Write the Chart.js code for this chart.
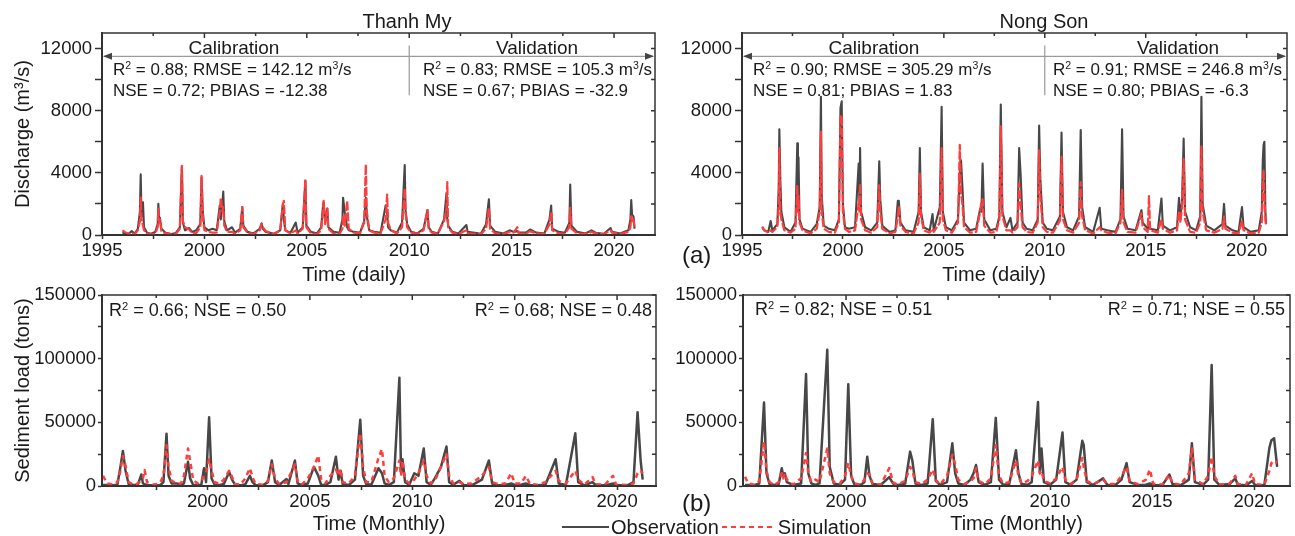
<!DOCTYPE html>
<html>
<head>
<meta charset="utf-8">
<title>Thanh My / Nong Son - discharge and sediment load</title>
<script src="https://cdn.jsdelivr.net/npm/chart.js@4.4.1/dist/chart.umd.min.js"></script>
<style>
    body { margin: 0; width: 1295px; height: 536px; position: relative; overflow: hidden; background: #fff;
           font-family: 'Liberation Sans', Arial, sans-serif; color: #1a1a1a; }
    canvas { position: absolute; }
    .lbl { position: absolute; white-space: nowrap; }
    .title { font-size: 20px; line-height: 22px; transform: translateX(-50%); }
    .axis { font-size: 20px; line-height: 24px; transform: translateX(-50%); }
    .period { font-size: 19px; line-height: 22px; transform: translateX(-50%); }
    .stat { font-size: 17px; line-height: 20px; }
    .stat2 { font-size: 18px; line-height: 22px; }
    .tag { font-size: 24px; line-height: 28px; }
    sup { font-size: 0.62em; line-height: 0; position: relative; top: -0.55em; vertical-align: baseline; }
    #legend { left: 562px; top: 516px; font-size: 20px; line-height: 22px; display: flex; align-items: center; }
    .key { display: inline-block; height: 2.5px; }
    .key.solid { width: 47px; background: #474747; margin-right: 2px; }
    .key.dashed { width: 50px; margin: 0 6px 0 3px;
                  background: repeating-linear-gradient(to right, #ff3d3d 0 5px, transparent 5px 9px); }
</style>
</head>
<body>

<canvas id="tmQ" width="660" height="290" style="left:0; top:0;"></canvas>
<canvas id="nsQ" width="655" height="290" style="left:640px; top:0;"></canvas>
<canvas id="tmSed" width="660" height="256" style="left:0; top:280px;"></canvas>
<canvas id="nsSed" width="655" height="256" style="left:640px; top:280px;"></canvas>

<div class="lbl title" style="left:407px; top:10px;">Thanh My</div>
<div class="lbl title" style="left:1044px; top:10px;">Nong Son</div>
<div class="lbl axis" style="left:354px; top:262px;">Time (daily)</div>
<div class="lbl axis" style="left:994px; top:262px;">Time (daily)</div>

<div class="lbl period" style="left:234px; top:37px;">Calibration</div>
<div class="lbl period" style="left:537px; top:37px;">Validation</div>
<div class="lbl stat" style="left:113px; top:60px;">R<sup>2</sup> = 0.88; RMSE = 142.12 m<sup>3</sup>/s</div>
<div class="lbl stat" style="left:113px; top:81px;">NSE = 0.72; PBIAS = -12.38</div>
<div class="lbl stat" style="left:423px; top:60px;">R<sup>2</sup> = 0.83; RMSE = 105.3 m<sup>3</sup>/s</div>
<div class="lbl stat" style="left:423px; top:81px;">NSE = 0.67; PBIAS = -32.9</div>

<div class="lbl period" style="left:874px; top:37px;">Calibration</div>
<div class="lbl period" style="left:1178px; top:37px;">Validation</div>
<div class="lbl stat" style="left:753px; top:60px;">R<sup>2</sup> = 0.90; RMSE = 305.29 m<sup>3</sup>/s</div>
<div class="lbl stat" style="left:753px; top:81px;">NSE = 0.81; PBIAS = 1.83</div>
<div class="lbl stat" style="left:1053px; top:60px;">R<sup>2</sup> = 0.91; RMSE = 246.8 m<sup>3</sup>/s</div>
<div class="lbl stat" style="left:1053px; top:81px;">NSE = 0.80; PBIAS = -6.3</div>

<div class="lbl stat2" style="left:109px; top:299px;">R<sup>2</sup> = 0.66; NSE = 0.50</div>
<div class="lbl stat2" style="right:643px; top:299px;">R<sup>2</sup> = 0.68; NSE = 0.48</div>
<div class="lbl stat2" style="left:755px; top:298px;">R<sup>2</sup> = 0.82; NSE = 0.51</div>
<div class="lbl stat2" style="right:10px; top:298px;">R<sup>2</sup> = 0.71; NSE = 0.55</div>

<div class="lbl tag" style="left:682px; top:241px;">(a)</div>
<div class="lbl tag" style="left:682px; top:489px;">(b)</div>

<div id="legend" class="lbl"><span class="key solid"></span>Observation<span class="key dashed"></span>Simulation</div>

<script>
// ---- data (decimal years) ----

// Thanh My daily discharge (m3/s)
const tmQTime = [
    1996.00,1996.10,1996.30,1996.45,1996.60,1996.75,1996.85,1996.89,1996.93,1997.00,1997.05,1997.20,1997.40,1997.60,1997.72,1997.75,1997.80,1997.83,1997.90,
    1998.10,1998.40,1998.60,1998.80,1998.90,1998.95,1999.05,1999.25,1999.40,1999.60,1999.80,1999.86,1999.92,
    2000.00,2000.20,2000.40,2000.60,2000.75,2000.80,2000.88,2000.92,2000.97,2001.10,2001.35,2001.50,2001.75,2001.85,2001.90,
    2002.10,2002.40,2002.70,2002.79,2002.85,2003.00,2003.40,2003.70,2003.83,2003.88,2003.95,2004.20,2004.46,2004.55,2004.80,2004.93,2004.98,
    2005.20,2005.50,2005.70,2005.78,2005.82,2005.90,2006.00,2006.05,2006.30,2006.60,2006.74,2006.77,2006.85,2006.97,2007.05,2007.30,2007.60,2007.80,2007.88,2007.93,
    2008.05,2008.30,2008.60,2008.85,2008.92,2008.97,2009.10,2009.40,2009.65,2009.78,2009.82,2009.90,
    2010.10,2010.40,2010.70,2010.89,2010.95,2011.10,2011.40,2011.70,2011.82,2011.86,2011.90,2012.10,2012.40,2012.79,2012.85,2013.20,2013.50,2013.75,2013.89,2013.95,2014.20,2014.60,2014.90,
    2015.10,2015.28,2015.35,2015.70,2015.90,2016.20,2016.60,2016.85,2016.93,2016.98,2017.30,2017.60,2017.82,2017.86,2017.92,2018.20,2018.60,2018.90,2019.10,2019.50,2019.83,2019.90,
    2020.30,2020.70,2020.80,2020.84,2020.88,2020.95,2021.00
];
const tmQObs = [
    120,150,80,250,90,400,1500,3900,1200,2100,500,150,80,200,700,2000,900,1100,400,
    150,70,120,500,4400,800,300,450,200,300,700,3700,1500,
    500,300,400,300,1900,1000,2000,2800,900,300,500,150,400,1800,600,
    200,100,400,750,400,200,80,300,2000,1000,300,150,800,150,500,3500,600,
    200,100,500,1700,2100,800,1700,500,200,150,1000,2400,1500,500,300,200,150,900,2400,1200,
    300,200,150,1900,1400,500,300,150,800,4500,1600,700,
    200,100,400,1600,500,200,100,1000,2700,1000,600,200,100,640,200,150,80,700,2300,600,200,100,300,
    200,250,150,150,350,150,100,1000,1900,400,200,150,800,3250,600,200,100,300,150,80,450,200,
    100,300,1000,2250,1300,1200,400
];
const tmQSim = [
    300,200,60,120,50,300,900,2400,1000,600,300,100,50,80,500,1700,800,1000,250,
    100,40,60,400,4450,900,500,350,150,120,500,3800,1200,
    300,200,150,150,1500,2400,1500,1800,600,200,200,80,300,1800,500,
    150,60,300,700,500,250,50,300,1950,2200,300,100,300,100,400,3550,500,
    100,60,300,1500,2200,700,1700,400,100,80,400,1200,600,2200,400,150,120,800,4550,1500,
    300,150,100,1000,2600,800,300,100,500,3000,1500,500,
    150,80,300,1600,400,150,80,900,1700,3400,500,150,60,300,100,80,50,400,1740,400,100,60,200,
    150,500,100,80,250,100,60,700,1500,300,100,80,500,1750,400,100,60,200,100,50,300,150,
    60,200,500,1200,800,1000,500
];

// Nong Son daily discharge (m3/s)
const nsQTime = [
    1996.00,1996.10,1996.30,1996.42,1996.50,1996.75,1996.82,1996.85,1996.90,1996.95,1997.10,1997.40,1997.65,1997.74,1997.77,1997.80,1997.85,
    1998.00,1998.40,1998.70,1998.85,1998.91,1998.95,1999.05,1999.30,1999.60,1999.80,1999.88,1999.94,
    2000.00,2000.10,2000.30,2000.60,2000.78,2000.82,2000.85,2000.90,2001.10,2001.40,2001.70,2001.80,2001.85,2001.95,
    2002.30,2002.60,2002.72,2002.77,2002.85,2003.10,2003.50,2003.75,2003.81,2003.87,2004.00,2004.30,2004.44,2004.50,2004.80,2004.89,2004.95,
    2005.10,2005.40,2005.70,2005.79,2005.85,2005.92,2006.00,2006.30,2006.60,2006.80,2006.86,2006.92,2007.00,2007.30,2007.60,2007.75,2007.82,2007.90,
    2008.10,2008.30,2008.40,2008.65,2008.73,2008.80,2008.90,2009.10,2009.40,2009.65,2009.72,2009.78,2009.90,
    2010.10,2010.40,2010.75,2010.83,2010.90,2011.10,2011.40,2011.70,2011.78,2011.85,2012.00,2012.40,2012.72,2012.80,2013.10,2013.50,2013.75,2013.83,2013.90,2014.10,2014.50,2014.79,2014.85,
    2015.10,2015.16,2015.22,2015.60,2015.78,2015.85,2016.20,2016.55,2016.65,2016.72,2016.80,2016.88,2016.95,2017.20,2017.50,2017.70,2017.76,2017.82,2018.00,2018.40,2018.80,2018.88,2018.95,2019.30,2019.60,2019.77,2019.85,
    2020.20,2020.60,2020.75,2020.80,2020.84,2020.88,2020.93,2020.96
];
const nsQObs = [
    500,300,200,900,300,700,3000,6800,3500,1500,500,200,800,5900,2000,5000,1000,
    400,200,700,1800,8900,2500,600,400,300,1000,8200,8600,
    2000,500,400,500,4600,2000,5600,1500,500,300,800,4750,2300,600,
    200,300,2200,2200,800,300,200,1500,5600,1500,500,300,1350,300,1800,8250,1500,
    500,300,1000,4000,4800,3100,800,300,400,1700,1500,4600,1000,300,400,1200,8400,1500,
    500,1100,300,800,5600,4000,800,400,300,1000,7050,3600,800,
    400,300,1200,6600,1500,500,300,1200,6750,1800,500,200,1750,400,300,200,1000,6800,1200,400,300,1600,800,
    400,600,400,300,2350,600,300,500,2400,1200,2100,6200,1500,500,300,1200,8900,2000,600,300,700,2000,600,300,200,1800,500,
    200,300,1500,4800,5800,6000,1500,700
];
const nsQSim = [
    550,300,150,300,200,500,2000,5600,1500,1000,300,150,400,3200,1500,2500,800,
    300,100,400,1500,6650,1500,400,200,150,800,7600,7700,
    1500,400,200,300,2000,1500,3300,1000,300,150,500,3200,1500,400,
    100,200,1200,1850,600,200,100,800,3950,1200,300,150,400,200,800,5600,1000,
    300,150,800,5800,2700,2000,500,150,200,1500,2200,2300,600,150,200,1000,7000,1200,
    300,300,150,500,3300,2000,500,200,150,800,5450,2500,500,
    200,150,900,5050,1000,300,150,800,3400,1200,300,100,500,300,150,100,800,2900,800,200,150,1400,500,
    200,2500,300,150,1000,400,150,300,1500,800,1800,4900,1000,200,150,800,5700,1500,300,150,400,1200,400,150,100,900,300,
    100,150,800,3000,4200,2500,1000,600
];

// Thanh My monthly sediment load (tons)
const tmSedTime = [
    1994.90,1995.10,1995.40,1995.60,1995.75,1995.87,1996.00,1996.15,1996.40,1996.60,1996.77,1996.85,1996.93,1997.05,1997.40,1997.70,1997.85,
    1998.00,1998.10,1998.25,1998.50,1998.70,1998.85,1999.05,1999.15,1999.30,1999.50,1999.70,1999.83,1999.93,
    2000.08,2000.20,2000.35,2000.60,2000.80,2001.06,2001.20,2001.35,2001.60,2001.85,2002.07,2002.20,2002.35,2002.70,2002.95,
    2003.14,2003.30,2003.50,2003.86,2003.95,2004.27,2004.40,2004.60,2004.90,2005.20,2005.41,2005.55,2005.75,2006.00,2006.27,2006.40,2006.50,2006.60,2006.90,
    2007.20,2007.46,2007.60,2007.75,2008.00,2008.35,2008.52,2008.65,2008.85,2009.10,2009.37,2009.45,2009.52,2009.65,2009.85,
    2010.10,2010.30,2010.56,2010.70,2010.90,2011.10,2011.40,2011.67,2011.80,2012.00,2012.30,2012.50,2012.90,2013.40,2013.74,2013.90,2014.20,2014.55,2014.83,
    2015.00,2015.30,2015.55,2015.75,2016.10,2016.50,2017.00,2017.15,2017.50,2017.96,2018.10,2018.40,2018.80,2018.95,2019.40,2019.80,2019.95,2020.50,2020.80,2021.00,2021.15,2021.25
];
const tmSedObs = [
    800,800,600,1000,15000,27500,12000,1500,800,1000,9000,2000,1500,800,600,800,3000,
    41000,8000,2000,2000,800,2000,19000,6000,1000,800,1000,14000,3000,
    54000,6000,1000,800,1500,11000,5000,800,500,1500,8000,3000,600,500,3000,
    20000,3000,800,5500,1500,20000,2000,600,2000,15000,8000,1000,800,3000,23000,5000,12000,1500,800,
    5000,52000,8000,1500,1000,14000,10000,2000,800,3000,85000,10000,21000,3000,1000,
    10000,8000,29500,3000,1000,6000,15000,31000,3000,1000,4000,800,500,5000,20000,2000,500,800,2000,
    800,1000,2000,800,600,1000,21000,2000,800,41500,3000,500,3000,800,500,2000,800,500,3000,58000,20000,5000
];
const tmSedSim = [
    8000,2000,1000,3000,12000,23500,16000,3000,1000,2000,4000,6000,12500,3000,1000,3000,8000,
    32000,15000,4000,2000,2000,8000,29500,20000,5000,2000,4000,8000,10000,
    21000,12000,3000,2000,5000,12000,7000,1500,1000,6000,14000,7000,1500,1000,4000,
    17000,6000,1500,3000,6000,17000,4000,1000,6000,15000,24000,5000,2000,8000,13000,8000,13500,3000,2000,
    8000,41500,15000,3000,3000,22000,29000,8000,3000,6000,20000,8000,20000,5000,2000,
    5000,10000,20000,8000,2000,4000,15000,25000,8000,2000,3000,1500,2000,8000,15000,3000,1500,2000,10000,
    2000,2000,8000,1500,1000,3000,12000,4000,2000,12000,5000,1000,7000,1500,1000,8000,1000,800,2000,10000,12000,10000
];

// Nong Son monthly sediment load (tons)
const nsSedTime = [
    1995.05,1995.20,1995.50,1995.75,1995.98,1996.10,1996.25,1996.50,1996.70,1996.85,1996.92,1997.00,1997.10,1997.40,1997.80,
    1998.04,1998.15,1998.30,1998.50,1998.70,1999.08,1999.20,1999.40,1999.70,1999.95,
    2000.11,2000.25,2000.40,2000.70,2000.90,2001.04,2001.15,2001.30,2001.70,2002.12,2002.30,2002.50,2002.90,
    2003.14,2003.25,2003.40,2003.70,2004.00,2004.25,2004.40,2004.60,2004.95,2005.21,2005.35,2005.50,2005.80,2006.10,2006.25,2006.37,2006.50,2006.80,
    2007.10,2007.34,2007.50,2007.70,2008.00,2008.33,2008.45,2008.60,2008.90,2009.10,2009.41,2009.50,2009.58,2009.70,2010.00,
    2010.30,2010.61,2010.75,2011.00,2011.30,2011.58,2011.65,2011.80,2012.10,2012.60,2012.80,2013.20,2013.50,2013.75,2013.90,2014.30,2014.70,2014.89,
    2015.05,2015.50,2015.85,2016.00,2016.40,2016.80,2016.95,2017.10,2017.50,2017.75,2017.92,2018.05,2018.30,2018.80,2019.08,2019.20,2019.60,2019.90,2020.05,2020.50,2020.75,2020.85,2020.98,2021.13
];
const nsSedObs = [
    800,800,600,2000,65500,10000,1500,800,1500,14000,8000,10000,3000,800,2000,
    88000,10000,2000,800,2000,107000,15000,2000,1000,5000,
    80000,8000,1500,800,3000,23000,8000,1500,800,7000,2000,600,2000,
    27000,20000,2000,800,2000,52500,4000,800,3000,33500,10000,2000,800,5000,10000,16500,3000,800,
    3000,53500,5000,1000,1500,28000,10000,1500,1000,3000,66000,10000,29500,3000,1000,
    5000,42000,3000,1000,5000,35500,32000,3000,800,6000,1000,800,5000,18000,3000,800,1000,2000,
    800,600,9000,1500,600,5000,33500,3000,800,5000,95000,5000,800,1500,6000,1000,500,4000,800,500,30000,36000,37500,15000
];
const nsSedSim = [
    7300,2000,1000,4000,35000,12000,3000,1000,3000,10000,6000,10000,5000,1000,6000,
    26000,10000,3000,5000,3000,29500,10000,3000,2000,8000,
    18000,8000,2000,1000,5000,10000,9000,2000,1000,14000,3000,1000,4000,
    15000,12000,3000,1500,5000,13000,5000,1000,8000,24500,17000,5000,1500,4000,6000,14000,4000,1500,
    6000,32000,8000,2000,3000,20000,8000,2000,4000,8000,20000,10000,12000,4000,2000,
    6000,15000,5000,1500,5000,22000,15000,4000,1500,5000,1500,1500,8000,15000,4000,1500,5000,13000,
    2000,1000,9000,2000,1000,10000,29500,5000,1500,8000,23000,8000,1000,2000,8000,1500,1000,10000,1500,800,12000,18000,20000,18000
];

// axis ticks
const qTicksX = [1995, 1997.5, 2000, 2002.5, 2005, 2007.5, 2010, 2012.5, 2015, 2017.5, 2020];
const sedTicksX = [1997.5, 2000, 2002.5, 2005, 2007.5, 2010, 2012.5, 2015, 2017.5, 2020];
const qTicksY = [0, 2000, 4000, 6000, 8000, 10000, 12000];
const sedTicksY = [0, 25000, 50000, 75000, 100000, 125000, 150000];
const calibrationEnd = 2010;

const fontFamily = "'Liberation Sans', Arial, sans-serif";
const textColor = '#1a1a1a';
const axisColor = '#333';
const obsColor = '#474747';
const simColor = '#ff3d3d';

// box around the plot, inward ticks on top/right, calibration/validation marker
const framePlugin = {
    id: 'frame',
    afterDraw(chart, args, opts) {
        const { ctx, chartArea: a, scales: { x, y } } = chart;
        ctx.save();
        ctx.strokeStyle = axisColor;
        ctx.lineWidth = 1.5;
        ctx.strokeRect(a.left, a.top, a.right - a.left, a.bottom - a.top);

        ctx.beginPath();
        x.ticks.forEach(t => {
            const px = x.getPixelForValue(t.value);
            ctx.moveTo(px, a.top);
            ctx.lineTo(px, a.top + (t.value % 5 === 0 ? 5 : 3));
        });
        y.ticks.forEach(t => {
            const py = y.getPixelForValue(t.value);
            ctx.moveTo(a.right, py);
            ctx.lineTo(a.right - 4, py);
        });
        ctx.stroke();

        if (opts.split) {
            const py = y.getPixelForValue(opts.arrowAt);
            const px = x.getPixelForValue(opts.split);
            ctx.strokeStyle = '#9a9a9a';
            ctx.lineWidth = 1.2;
            ctx.beginPath();
            ctx.moveTo(a.left + 2, py);
            ctx.lineTo(a.right - 2, py);
            ctx.moveTo(px, y.getPixelForValue(opts.divTop));
            ctx.lineTo(px, y.getPixelForValue(opts.divBottom));
            ctx.stroke();

            // arrow heads
            ctx.fillStyle = '#444';
            ctx.beginPath();
            ctx.moveTo(a.left + 1, py);
            ctx.lineTo(a.left + 10, py - 3.5);
            ctx.lineTo(a.left + 10, py + 3.5);
            ctx.closePath();
            ctx.moveTo(a.right - 1, py);
            ctx.lineTo(a.right - 10, py - 3.5);
            ctx.lineTo(a.right - 10, py + 3.5);
            ctx.closePath();
            ctx.fill();
        }
        ctx.restore();
    }
};

function toPoints(time, values) {
    return time.map((t, i) => ({ x: t, y: values[i] }));
}

function makePanel(id, cfg) {
    const font = { family: fontFamily, size: 18.5 };
    const titleFont = { family: fontFamily, size: 20 };

    return new Chart(document.getElementById(id), {
        type: 'line',
        data: {
            datasets: [
                { label: 'Observation', data: toPoints(cfg.time, cfg.obs), borderColor: obsColor,
                  borderWidth: cfg.obsWidth, order: 2 },
                { label: 'Simulation', data: toPoints(cfg.time, cfg.sim), borderColor: simColor,
                  borderWidth: cfg.simWidth, borderDash: cfg.dash, order: 1 }
            ]
        },
        options: {
            responsive: false,
            animation: false,
            layout: { padding: cfg.padding },
            elements: {
                point: { radius: 0 },
                line: { tension: 0, borderJoinStyle: 'round' }
            },
            plugins: {
                legend: { display: false },
                tooltip: { enabled: false },
                frame: cfg.marker || {}
            },
            scales: {
                x: {
                    type: 'linear',
                    min: cfg.xMin,
                    max: cfg.xMax,
                    afterBuildTicks: s => { s.ticks = cfg.xTicks.map(v => ({ value: v })); },
                    afterFit: s => { s.height = cfg.xHeight; },
                    ticks: {
                        autoSkip: false, maxRotation: 0, padding: 1, color: textColor, font: font,
                        callback: v => v % 5 === 0 ? String(v) : ''
                    },
                    grid: { drawOnChartArea: false, tickLength: 4, tickColor: axisColor, tickWidth: 1.5 },
                    border: { color: axisColor, width: 2 },
                    title: { display: !!cfg.xTitle, text: cfg.xTitle || '', color: textColor, font: titleFont,
                             padding: { top: 0, bottom: 0 } }
                },
                y: {
                    min: 0,
                    max: cfg.yMax,
                    afterBuildTicks: s => { s.ticks = cfg.yTicks.map(v => ({ value: v })); },
                    afterFit: s => { s.width = cfg.yWidth; },
                    ticks: {
                        autoSkip: false, padding: cfg.yTickPad, color: textColor, font: font,
                        callback: v => v % cfg.yLabelStep === 0 ? String(v) : ''
                    },
                    grid: { drawOnChartArea: false, tickLength: cfg.yTickLen, tickColor: axisColor, tickWidth: 1.5 },
                    border: { color: axisColor, width: 2 },
                    title: { display: !!cfg.yTitle, text: cfg.yTitle || '', color: textColor, font: titleFont,
                             padding: { top: 11, bottom: 0 } }
                }
            }
        },
        plugins: [framePlugin]
    });
}

// top row: x title is placed as a page label (it sits left of the plot centre)
const qCommon = {
    xMin: 1995, xMax: 2022, xTicks: qTicksX, xHeight: 55,
    yMax: 13000, yTicks: qTicksY, yLabelStep: 4000, yTickLen: 7, yTickPad: 3, yWidth: 102,
    obsWidth: 2.1, simWidth: 2.2, dash: [9, 2],
    marker: { split: calibrationEnd, arrowAt: 11500, divTop: 12200, divBottom: 9000 }
};
const sedCommon = {
    xTicks: sedTicksX, xHeight: 50, xTitle: 'Time (Monthly)',
    yMax: 150000, yTicks: sedTicksY, yLabelStep: 50000, yTickLen: 4, yTickPad: 2,
    obsWidth: 2.5, simWidth: 2.5, dash: [5, 4]
};

makePanel('tmQ', Object.assign({}, qCommon, {
    time: tmQTime, obs: tmQObs, sim: tmQSim,
    yTitle: 'Discharge (m³/s)', padding: { top: 33, right: 5, bottom: 0, left: 0 }
}));
makePanel('nsQ', Object.assign({}, qCommon, {
    time: nsQTime, obs: nsQObs, sim: nsQSim,
    padding: { top: 33, right: 8, bottom: 0, left: 0 }
}));
makePanel('tmSed', Object.assign({}, sedCommon, {
    time: tmSedTime, obs: tmSedObs, sim: tmSedSim, xMin: 1994.85, xMax: 2021.9, yWidth: 102,
    yTitle: 'Sediment load (tons)', padding: { top: 15, right: 4, bottom: 0, left: 0 }
}));
makePanel('nsSed', Object.assign({}, sedCommon, {
    time: nsSedTime, obs: nsSedObs, sim: nsSedSim, xMin: 1994.95, xMax: 2021.76, yWidth: 103,
    padding: { top: 15, right: 5, bottom: 0, left: 0 }
}));
</script>
</body>
</html>
